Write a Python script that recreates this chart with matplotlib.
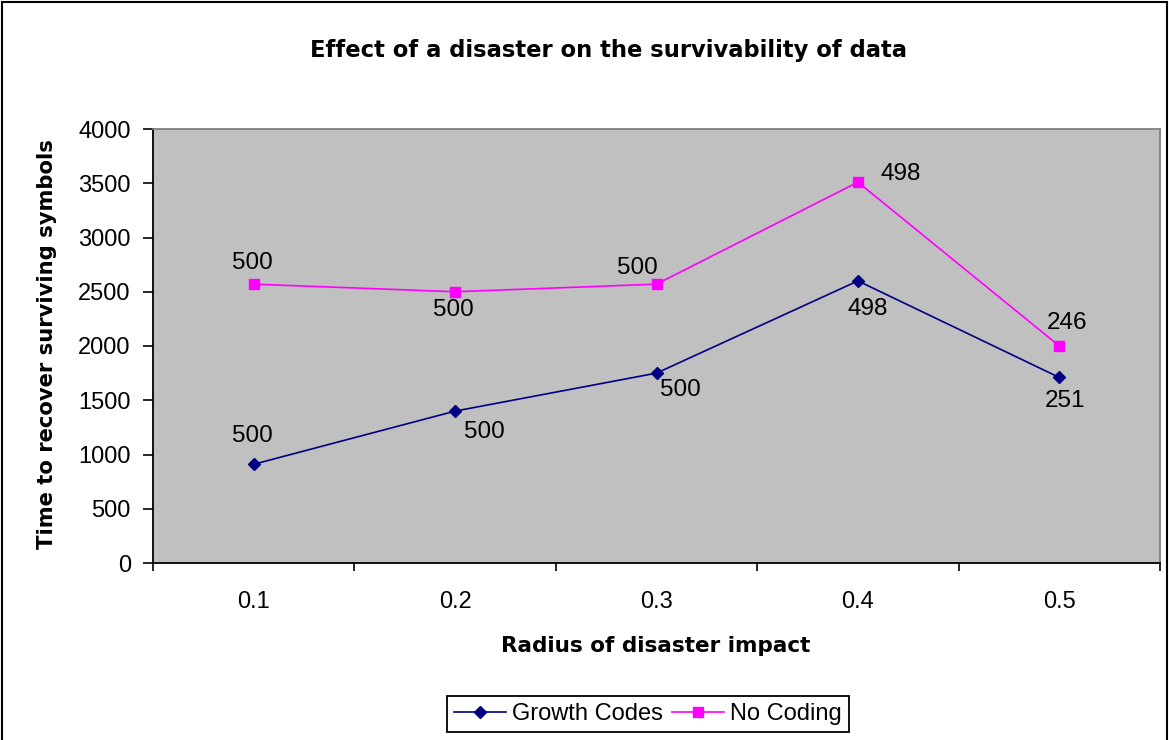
import matplotlib
matplotlib.use("Agg")
import matplotlib.pyplot as plt
from matplotlib.patches import Rectangle

categories = ["0.1", "0.2", "0.3", "0.4", "0.5"]
growth_codes = [910, 1400, 1750, 2600, 1710]
no_coding = [2570, 2500, 2570, 3510, 2000]
growth_labels = ["500", "500", "500", "498", "251"]
nocoding_labels = ["500", "500", "500", "498", "246"]
y_ticks = [0, 500, 1000, 1500, 2000, 2500, 3000, 3500, 4000]

plt.rcParams['font.family'] = ['Liberation Sans', 'DejaVu Sans']

W, H = 1169, 740
fig = plt.figure(figsize=(W / 100, H / 100), dpi=100)
fig.patch.set_facecolor('white')
fig.add_artist(Rectangle((1.5 / W, -0.01), (W - 3.5) / W, 1.0 - 1.5 / H + 0.01,
                         transform=fig.transFigure, fill=False, edgecolor='black',
                         linewidth=1.5))

ax = fig.add_axes([153 / W, 1 - 563 / H, (1160 - 153) / W, (563 - 129) / H])
ax.set_facecolor('#C0C0C0')
x = list(range(len(categories)))

ax.plot(x, growth_codes, color='#000080', marker='D', markersize=6.5, linewidth=1.2,
        label='Growth Codes')
ax.plot(x, no_coding, color='#FF00FF', marker='s', markersize=7, linewidth=1.2,
        label='No Coding')

# data label offsets in pixels (dx, dy with +y upward)
g_off = [(-1, 28), (29, -21), (24, -17), (10, -28), (6, -24)]
n_off = [(-1, 21), (-2, -18), (-19, 16), (43, 8), (8, 23)]
for i in x:
    ax.annotate(growth_labels[i], (i, growth_codes[i]), xytext=g_off[i],
                textcoords='offset pixels', ha='center', va='center', fontsize=17.5)
    ax.annotate(nocoding_labels[i], (i, no_coding[i]), xytext=n_off[i],
                textcoords='offset pixels', ha='center', va='center', fontsize=17.5)

ax.set_xlim(-0.5, len(categories) - 0.5)
ax.set_ylim(0, 4000)
ax.set_yticks(y_ticks)
ax.set_yticklabels([str(v) for v in y_ticks], fontsize=17)
ax.set_xticks(x)
ax.set_xticklabels(categories, fontsize=17)
ax.set_xticks([i - 0.5 for i in range(len(categories) + 1)], minor=True)
ax.tick_params(axis='x', which='major', length=0, pad=20)
ax.tick_params(axis='x', which='minor', length=6, width=1.2, direction='out')
ax.tick_params(axis='y', length=7, width=1.2, direction='out', pad=9)

for s in ['left', 'bottom']:
    ax.spines[s].set_color('black')
    ax.spines[s].set_linewidth(1.3)
for s in ['top', 'right']:
    ax.spines[s].set_color('#808080')
    ax.spines[s].set_linewidth(1.3)

fig.text(656 / W, 1 - 646 / H, 'Radius of disaster impact', ha='center', va='center',
         fontsize=15.5, fontweight='bold', family=['DejaVu Sans'])
fig.text(47 / W, 1 - 344 / H, 'Time to recover surviving symbols', ha='center',
         va='center', rotation=90, fontsize=15.2, fontweight='bold',
         family=['DejaVu Sans'])
fig.text(609 / W, 1 - 50 / H, 'Effect of a disaster on the survivability of data',
         ha='center', va='center', fontsize=16.3, fontweight='bold',
         family=['DejaVu Sans'])

leg = fig.legend(loc='center', bbox_to_anchor=(648 / W, 1 - 714 / H), ncol=2,
                 frameon=True, fontsize=17, handlelength=2.2, columnspacing=0.4,
                 handletextpad=0.25, borderpad=0.3, borderaxespad=0, fancybox=False,
                 framealpha=1)
leg.get_frame().set_edgecolor('black')
leg.get_frame().set_linewidth(1.3)

fig.savefig('out.png', dpi=100)
